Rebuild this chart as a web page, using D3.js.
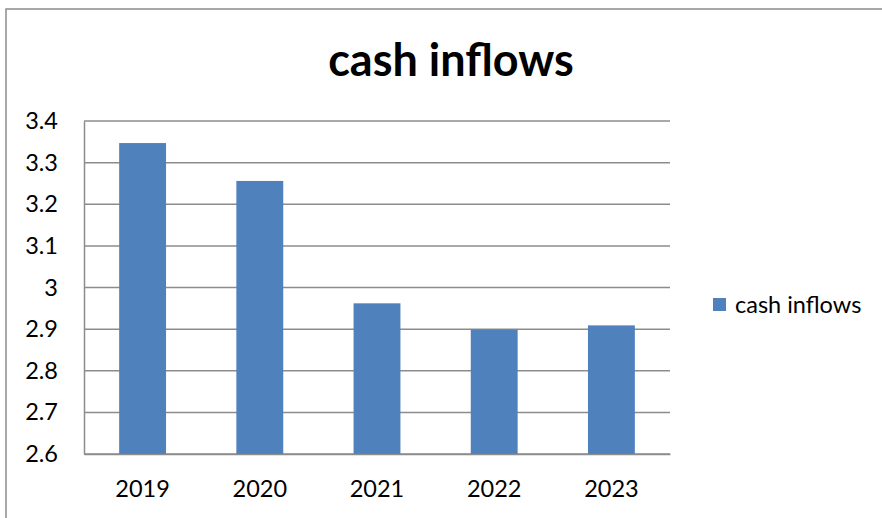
<!DOCTYPE html>
<html><head><meta charset="utf-8">
<script src="https://cdn.jsdelivr.net/npm/d3@7"></script>
<style>body{margin:0;background:#fff;}svg{display:block;}</style>
</head><body>
<script>
const categories = ["2019","2020","2021","2022","2023"];
const values = [3.347, 3.256, 2.962, 2.899, 2.909];
const yTicks = [2.6, 2.7, 2.8, 2.9, 3.0, 3.1, 3.2, 3.3, 3.4];
const seriesName = "cash inflows";
const titleText = "cash inflows";

const W = 882, H = 518;
const font = "Lato, 'Open Sans', sans-serif";
const svg = d3.select("body").append("svg").attr("width", W).attr("height", H);

// outer border
svg.append("rect").attr("x", 6).attr("y", 9).attr("width", W + 10).attr("height", H + 10)
  .attr("fill", "none").attr("stroke", "#8c8c8c").attr("stroke-width", 1.5);

const L = 84, R = 670, T = 121, B = 454;
const x = d3.scaleBand().domain(categories).range([L, R]).paddingInner(0.6).paddingOuter(0.3);
const y = d3.scaleLinear().domain([2.6, 3.4]).range([B, T]);

// gridlines
svg.append("g").selectAll("line").data(yTicks).join("line")
  .attr("x1", L).attr("x2", R).attr("y1", d => y(d)).attr("y2", d => y(d))
  .attr("stroke", "#8c8c8c").attr("stroke-width", 1.5);

// y axis
const yAxis = svg.append("g").attr("transform", `translate(${L},0)`)
  .call(d3.axisLeft(y).tickValues(yTicks).tickSize(0).tickPadding(26).tickFormat(d => d3.format("")(+d.toFixed(1))));
yAxis.select(".domain").attr("stroke", "#8c8c8c").attr("stroke-width", 1.5);
yAxis.selectAll("text").attr("font-family", font).attr("font-size", 23.5).attr("fill", "#000");

// bars
svg.append("g").selectAll("rect").data(values).join("rect")
  .attr("x", (d, i) => x(categories[i])).attr("width", x.bandwidth())
  .attr("y", d => y(d)).attr("height", d => B - y(d))
  .attr("fill", "#4f81bd");

// x axis
const xAxis = svg.append("g").attr("transform", `translate(0,${B})`)
  .call(d3.axisBottom(x).tickSize(0).tickPadding(26));
xAxis.select(".domain").attr("stroke", "#8c8c8c").attr("stroke-width", 1.5);
xAxis.selectAll("text").attr("font-family", font).attr("font-size", 23.5).attr("fill", "#000");

// title
svg.append("text").attr("x", 451).attr("y", 76).attr("text-anchor", "middle")
  .attr("font-family", font).attr("font-weight", "bold").attr("font-size", 45).attr("fill", "#000")
  .text(titleText);

// legend
const lg = svg.append("g").attr("transform", "translate(713,298)");
lg.append("rect").attr("width", 13).attr("height", 13).attr("fill", "#4f81bd");
lg.append("text").attr("x", 22).attr("y", 15).attr("font-family", font).attr("font-size", 23.5).attr("fill", "#000").text(seriesName);
</script>
</body></html>
